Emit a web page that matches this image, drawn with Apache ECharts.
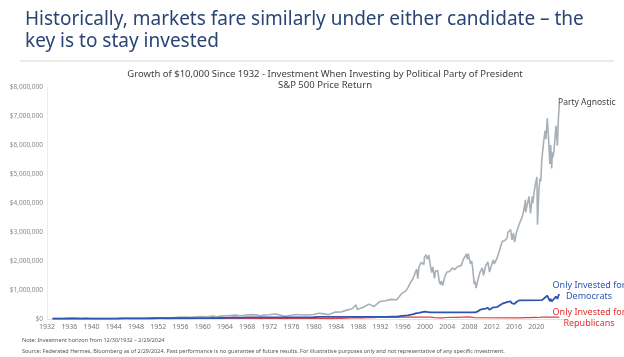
<!DOCTYPE html>
<html>
<head>
<meta charset="utf-8">
<script src="https://cdn.jsdelivr.net/npm/echarts@6/dist/echarts.min.js"></script>
<style>html,body{margin:0;padding:0;background:#fff;}#c{width:624px;height:357px;}</style>
</head>
<body>
<div id="c"></div>
<script>
// ---- Data ($ value of a $10,000 investment) ----
var yTicks = [0, 1000000, 2000000, 3000000, 4000000, 5000000, 6000000, 7000000, 8000000];
var xTickYears = [1932,1936,1940,1944,1948,1952,1956,1960,1964,1968,1972,1976,1980,1984,1988,1992,1996,2000,2004,2008,2012,2016,2020];

var agnosticDates = [1932.99,1933.2,1933.5,1934.0,1934.5,1935.0,1935.9,1936.9,1937.2,1938.2,1938.9,1939.9,1940.5,1941.9,1942.3,1943.9,1944.9,1945.9,1946.4,1946.9,1947.9,1948.9,1949.5,1949.9,1950.9,1951.9,1952.9,1953.7,1953.9,1954.9,1955.9,1956.9,1957.8,1957.9,1958.9,1959.9,1960.8,1960.9,1961.9,1962.5,1962.9,1963.9,1964.9,1965.9,1966.8,1966.9,1967.9,1968.9,1969.9,1970.4,1970.9,1971.9,1972.9,1973.9,1974.8,1974.9,1975.9,1976.9,1977.9,1978.9,1979.9,1980.9,1981.9,1982.6,1982.9,1983.9,1984.9,1985.9,1986.9,1987.6,1987.8,1987.9,1988.9,1989.9,1990.8,1990.9,1991.9,1992.9,1993.9,1994.9,1995.9,1996.5,1996.9,1997.5,1997.8,1997.9,1998.5,1998.7,1998.9,1999.3,1999.6,1999.8,1999.9,2000.2,2000.4,2000.7,2000.9,2001.2,2001.4,2001.7,2001.9,2002.3,2002.55,2002.8,2002.9,2003.2,2003.5,2003.9,2004.5,2004.9,2005.3,2005.9,2006.5,2006.9,2007.2,2007.5,2007.6,2007.8,2007.9,2008.2,2008.4,2008.55,2008.85,2008.99,2009.18,2009.5,2009.9,2010.3,2010.5,2010.9,2011.3,2011.6,2011.9,2012.3,2012.45,2012.9,2013.4,2013.9,2014.3,2014.8,2014.9,2015.4,2015.65,2015.9,2016.1,2016.5,2016.9,2017.5,2017.9,2018.05,2018.1,2018.7,2018.98,2019.3,2019.4,2019.6,2019.9,2020.13,2020.23,2020.5,2020.7,2020.83,2020.99,2021.3,2021.6,2021.75,2021.99,2022.2,2022.45,2022.6,2022.78,2022.9,2022.99,2023.2,2023.55,2023.82,2023.99,2024.16];
var agnosticValues = [10000,8400,16000,14500,13500,13300,19600,25000,26500,12500,19200,17500,13300,12700,11300,17000,19200,25100,27600,22300,22300,22000,20500,24500,29600,34400,38400,33500,35800,52400,66000,67800,57000,57700,80000,87900,77500,84200,103000,76800,91500,109000,123000,134000,107000,116000,139000,150000,134000,101000,134000,149000,171000,141000,90000,99600,131000,156000,138000,140000,155000,197000,177000,148000,204000,238000,243000,306000,352000,485000,325000,358000,403000,512000,430000,479000,605000,632000,676000,664000,894000,960000,1075000,1300000,1380000,1408000,1720000,1390000,1784000,1950000,1970000,1880000,2132000,2216000,2060000,2200000,1916000,1600000,1800000,1400000,1666000,1660000,1300000,1183000,1310000,1160000,1420000,1614000,1650000,1759000,1700000,1811000,1840000,2058000,2060000,2250000,2060000,2248000,2131000,1900000,2000000,1800000,1200000,1311000,1067000,1330000,1618000,1760000,1500000,1826000,1970000,1620000,1826000,2040000,1900000,2070000,2370000,2680000,2700000,2800000,2990000,3080000,2730000,2970000,2650000,3020000,3250000,3530000,3880000,4110000,3680000,4230000,3640000,4230000,3990000,4350000,4690000,4900000,3250000,4500000,4850000,4750000,5450000,6050000,6500000,6200000,6920000,6300000,5350000,6000000,5190000,5750000,5570000,5800000,6660000,5980000,6920000,7400000];

var demDates = [1932.99,1933.17,1933.5,1933.9,1934.9,1935.9,1936.9,1937.2,1938.2,1938.9,1939.9,1940.5,1941.9,1942.3,1943.9,1944.9,1945.9,1946.4,1946.9,1947.9,1948.9,1949.5,1949.9,1950.9,1951.9,1953.05,1961.05,1961.9,1962.5,1962.9,1963.9,1964.9,1965.9,1966.8,1966.9,1967.9,1969.05,1977.05,1977.9,1978.9,1979.9,1980.9,1981.05,1993.05,1993.9,1994.9,1995.9,1996.9,1997.9,1998.5,1998.7,1998.9,1999.9,2000.2,2000.9,2001.05,2009.05,2009.18,2009.5,2009.9,2010.3,2010.5,2010.9,2011.3,2011.6,2011.9,2012.3,2012.45,2012.9,2013.4,2013.9,2014.9,2015.4,2015.65,2015.9,2016.1,2016.5,2016.9,2017.05,2021.05,2021.3,2021.6,2021.75,2021.99,2022.45,2022.6,2022.78,2022.99,2023.55,2023.82,2023.99,2024.16];
var demValues = [10000,10000,14500,13000,12500,17300,22200,23400,11000,17000,15600,11900,11300,10100,15100,17100,22400,24500,19900,19800,19600,18300,21800,26300,30600,33600,33600,41000,30700,35300,42200,47600,51600,41700,45000,54000,57400,57400,53000,54000,60100,75900,74600,74600,79600,78100,105600,127000,166000,203000,164000,210700,251800,262000,226000,230000,230000,193000,262000,318000,342000,293000,359000,388000,318000,359000,402000,376000,407000,468000,528000,588000,606000,537000,584000,520000,595000,640000,649000,649000,704000,740000,720000,803000,615000,700000,603000,647000,773000,694000,804000,859000];

var repDates = [1932.99,1933.17,1953.05,1953.7,1953.9,1954.9,1955.9,1956.9,1957.8,1957.9,1958.9,1959.9,1960.8,1961.05,1969.05,1969.9,1970.4,1970.9,1971.9,1972.9,1973.9,1974.8,1974.9,1975.9,1976.9,1977.05,1981.05,1981.9,1982.6,1982.9,1983.9,1984.9,1985.9,1986.9,1987.6,1987.8,1987.9,1988.9,1989.9,1990.8,1990.9,1991.9,1992.9,1993.05,2001.05,2001.7,2001.9,2002.8,2002.9,2003.2,2003.9,2004.9,2005.9,2006.9,2007.8,2007.9,2008.55,2008.85,2008.99,2009.05,2017.05,2017.9,2018.05,2018.7,2018.98,2019.9,2020.13,2020.23,2020.5,2020.99,2021.05,2024.16];
var repValues = [10000,8400,8400,7400,8000,11600,14700,15200,12900,12900,17900,19700,17300,19300,19300,17400,13100,17400,19200,22300,18300,11700,13000,17000,20300,19500,19500,17800,14900,20500,24300,24500,30700,35500,48000,32500,36000,40600,51300,43000,48000,60700,63600,63300,63300,45300,54200,38500,41500,37600,52500,57200,58900,66900,73100,69300,59000,40000,42600,38000,38000,44700,47300,48800,41900,54100,56500,37400,51700,62900,64400,64400];

var seriesNames = ['Party Agnostic', 'Only Invested for Democrats', 'Only Invested for Republicans'];

function pairs(xs, ys) { return xs.map(function (x, i) { return [x, ys[i]]; }); }
function money(v) { return '$' + String(v).replace(/\B(?=(\d{3})+(?!\d))/g, ','); }

var chart = echarts.init(document.getElementById('c'), null, { renderer: 'canvas' });
var FONT = '"Noto Sans", "DejaVu Sans", sans-serif';
chart.setOption({
  animation: false,
  backgroundColor: '#ffffff',
  title: [
    { text: 'Historically, markets fare similarly under either candidate – the\nkey is to stay invested',
      left: 20, top: 4,
      textStyle: { fontFamily: FONT, fontSize: 19, fontWeight: 'normal', color: '#2a4574', lineHeight: 22 } },
    { text: 'Growth of $10,000 Since 1932 - Investment When Investing by Political Party of President\nS&P 500 Price Return',
      left: 320, textAlign: 'center', top: 64,
      textStyle: { fontFamily: FONT, fontSize: 9.5, fontWeight: 'normal', color: '#404040', lineHeight: 11 } }
  ],
  grid: { left: 47, right: 60, top: 87, bottom: 38 },
  xAxis: {
    type: 'value', min: 1932, max: 2025, interval: 4,
    axisLine: { show: true, lineStyle: { color: '#e4e4e4' } },
    axisTick: { show: false },
    splitLine: { show: false },
    axisLabel: { fontFamily: FONT, fontSize: 7, color: '#777', margin: 4,
      formatter: function (v) { return xTickYears.indexOf(v) >= 0 ? String(v) : ''; } }
  },
  yAxis: {
    type: 'value', min: yTicks[0], max: yTicks[yTicks.length - 1], interval: 1000000,
    axisLine: { show: true, lineStyle: { color: '#ececec' } },
    axisTick: { show: false },
    splitLine: { show: false },
    axisLabel: { fontFamily: FONT, fontSize: 6.5, color: '#888', margin: 4, formatter: money }
  },
  series: [
    { name: seriesNames[0], type: 'line', data: pairs(agnosticDates, agnosticValues), symbol: 'none',
      lineStyle: { color: '#a7afb7', width: 1.6 }, z: 2 },
    { name: seriesNames[2], type: 'line', data: pairs(repDates, repValues), symbol: 'none',
      lineStyle: { color: '#e0413f', width: 1.2 }, z: 3 },
    { name: seriesNames[1], type: 'line', data: pairs(demDates, demValues), symbol: 'none',
      lineStyle: { color: '#2d55b0', width: 1.8 }, z: 4 }
  ],
  graphic: [
    { type: 'line', shape: { x1: 20, y1: 61, x2: 614, y2: 61 }, style: { stroke: '#d6d6d6', lineWidth: 1 } },
    { type: 'text', x: 558, y: 103, style: { text: 'Party Agnostic', font: '8.5px ' + FONT, fill: '#404040', textVerticalAlign: 'middle' } },
    { type: 'text', x: 589, y: 291, style: { text: 'Only Invested for\nDemocrats', font: '9px ' + FONT, fill: '#2d55b0', textAlign: 'center', textVerticalAlign: 'middle', lineHeight: 11 } },
    { type: 'text', x: 589, y: 318, style: { text: 'Only Invested for\nRepublicans', font: '9px ' + FONT, fill: '#e0302e', textAlign: 'center', textVerticalAlign: 'middle', lineHeight: 11 } },
    { type: 'text', x: 22, y: 340, style: { text: 'Note: Investment horizon from 12/30/1932 – 2/29/2024', font: '5.5px ' + FONT, fill: '#555', textVerticalAlign: 'middle' } },
    { type: 'text', x: 22, y: 351, style: { text: 'Source: Federated Hermes, Bloomberg as of 2/29/2024. Past performance is no guarantee of future results. For illustrative purposes only and not representative of any specific investment.', font: '5.5px ' + FONT, fill: '#555', textVerticalAlign: 'middle' } }
  ]
});
</script>
</body>
</html>
